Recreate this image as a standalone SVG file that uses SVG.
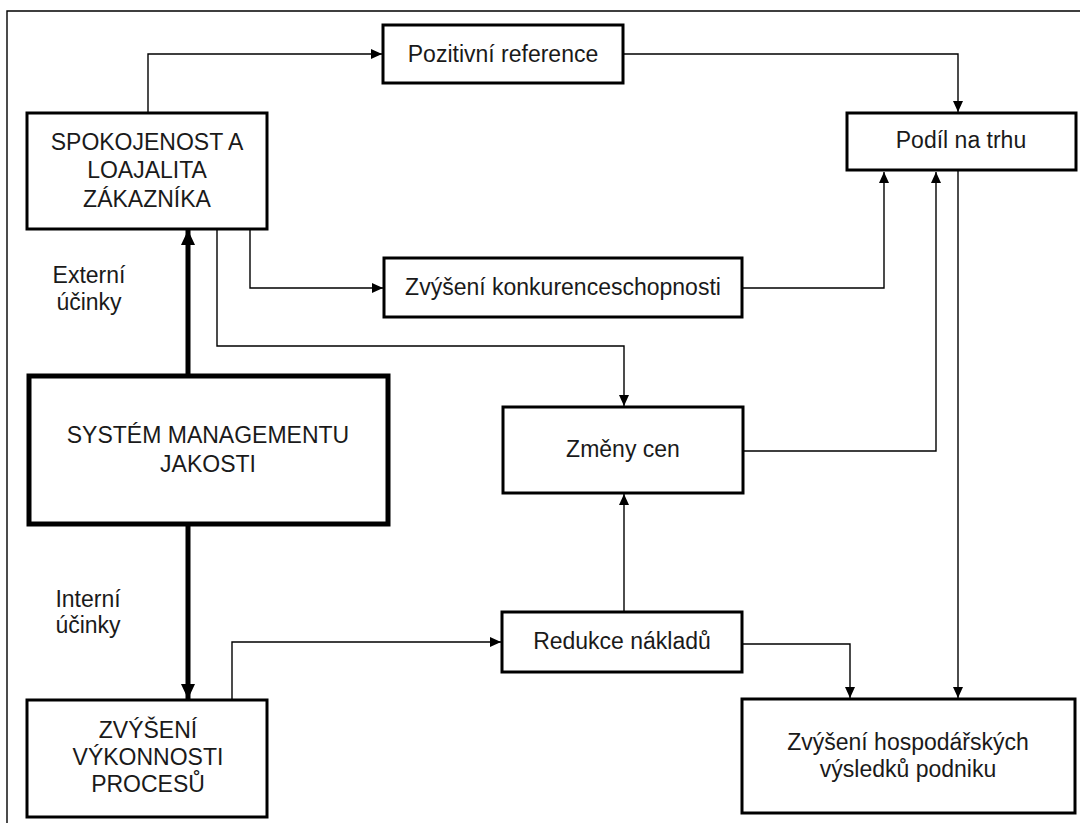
<svg xmlns="http://www.w3.org/2000/svg" width="1080" height="823" viewBox="0 0 1080 823">
<style>
.box{fill:#fff;stroke:#000;stroke-width:3}
.thick{fill:#fff;stroke:#000;stroke-width:5}
.t{font-family:"Liberation Sans",Arial,sans-serif;font-size:23px;fill:#1a1a1a;text-anchor:middle}
.c{fill:none;stroke:#000;stroke-width:1.4}
.ct{fill:none;stroke:#000;stroke-width:5}
</style>
<defs>
<marker id="a" markerUnits="userSpaceOnUse" markerWidth="11" markerHeight="10" refX="11" refY="5" orient="auto"><path d="M0,0 L11,5 L0,10 z" fill="#000"/></marker>
<marker id="at" markerUnits="userSpaceOnUse" markerWidth="15" markerHeight="14" refX="15" refY="7" orient="auto"><path d="M0,0 L15,7 L0,14 z" fill="#000"/></marker>
</defs>
<rect width="1080" height="823" fill="#fff"/>
<path d="M7,823 V11 H1080" fill="none" stroke="#000" stroke-width="1.4"/>
<g id="connectors">
<path class="c" d="M148,113 V54 H382" marker-end="url(#a)"/>
<path class="c" d="M623,54 H958 V112" marker-end="url(#a)"/>
<path class="c" d="M742,288 H884 V172" marker-end="url(#a)"/>
<path class="c" d="M743,451 H936 V172" marker-end="url(#a)"/>
<path class="c" d="M958,170 V698" marker-end="url(#a)"/>
<path class="c" d="M250,229 V288 H383" marker-end="url(#a)"/>
<path class="c" d="M217,229 V346 H624 V406" marker-end="url(#a)"/>
<path class="c" d="M624,612 V494" marker-end="url(#a)"/>
<path class="c" d="M232,700 V642 H501" marker-end="url(#a)"/>
<path class="c" d="M742,644 H850 V698" marker-end="url(#a)"/>
<path class="ct" d="M188,376 V230" marker-end="url(#at)"/>
<path class="ct" d="M188,524 V699" marker-end="url(#at)"/>
</g>
<g id="spokojenost"><rect class="box" x="27" y="113" width="240" height="116"/>
<text class="t" x="147" y="150">SPOKOJENOST A</text><text class="t" x="147" y="178">LOAJALITA</text><text class="t" x="147" y="207">ZÁKAZNÍKA</text></g>
<g id="pozitivni"><rect class="box" x="383" y="25" width="240" height="58"/><text class="t" x="503" y="62">Pozitivní reference</text></g>
<g id="podil"><rect class="box" x="847" y="113" width="229" height="57"/><text class="t" x="961" y="148">Podíl na trhu</text></g>
<g id="konkurence"><rect class="box" x="384" y="258" width="358" height="59"/><text class="t" x="563" y="295">Zvýšení konkurenceschopnosti</text></g>
<g id="zmeny"><rect class="box" x="503" y="407" width="240" height="86"/><text class="t" x="623" y="457">Změny cen</text></g>
<g id="system"><rect class="thick" x="29" y="376" width="359" height="148"/><text class="t" x="208" y="443">SYSTÉM MANAGEMENTU</text><text class="t" x="208" y="472">JAKOSTI</text></g>
<g id="externi"><text class="t" x="89" y="283">Externí</text><text class="t" x="89" y="310">účinky</text></g>
<g id="interni"><text class="t" x="88" y="607">Interní</text><text class="t" x="88" y="633">účinky</text></g>
<g id="zvyseni"><rect class="box" x="27" y="700" width="240" height="117"/>
<text class="t" x="148" y="738">ZVÝŠENÍ</text><text class="t" x="148" y="765">VÝKONNOSTI</text><text class="t" x="148" y="792">PROCESŮ</text></g>
<g id="redukce"><rect class="box" x="502" y="612" width="240" height="60"/><text class="t" x="622" y="649">Redukce nákladů</text></g>
<g id="hospodar"><rect class="box" x="742" y="699" width="333" height="114"/><text class="t" x="908" y="750">Zvýšení hospodářských</text><text class="t" x="908" y="777">výsledků podniku</text></g>
</svg>
